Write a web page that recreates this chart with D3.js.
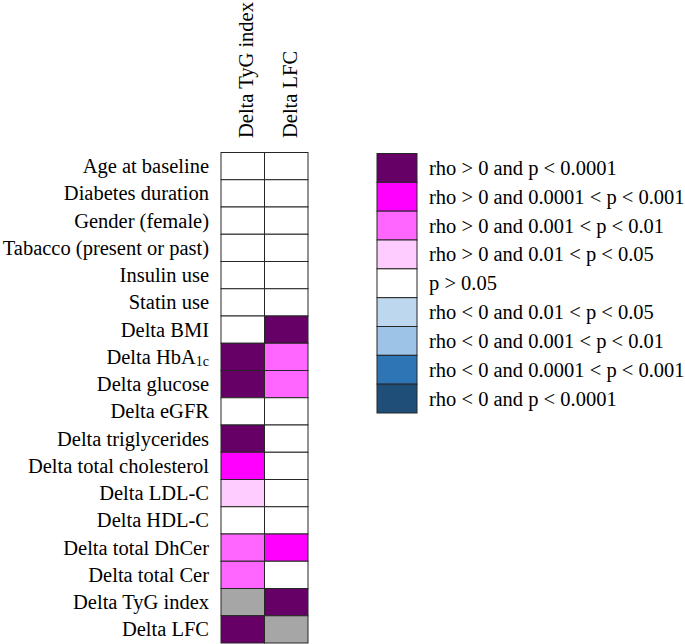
<!DOCTYPE html>
<html>
<head>
<meta charset="utf-8">
<script src="https://cdn.jsdelivr.net/npm/d3@7"></script>
<style>
  body { margin: 0; background: #fff; }
  text { font-family: "Liberation Serif", "Times New Roman", serif; font-size: 20.5px; fill: #000; }
</style>
</head>
<body>
<div id="chart"></div>
<script>
const rows = ['Age at baseline', 'Diabetes duration', 'Gender (female)', 'Tabacco (present or past)',
  'Insulin use', 'Statin use', 'Delta BMI', 'Delta HbA1c', 'Delta glucose', 'Delta eGFR',
  'Delta triglycerides', 'Delta total cholesterol', 'Delta LDL-C', 'Delta HDL-C',
  'Delta total DhCer', 'Delta total Cer', 'Delta TyG index', 'Delta LFC'];
const columns = ['Delta TyG index', 'Delta LFC'];

// significance class per row, per column (self = same variable)
const tygValues = ['ns', 'ns', 'ns', 'ns', 'ns', 'ns', 'ns', 'pos4', 'pos4', 'ns',
  'pos4', 'pos3', 'pos1', 'ns', 'pos2', 'pos2', 'self', 'pos4'];
const lfcValues = ['ns', 'ns', 'ns', 'ns', 'ns', 'ns', 'pos4', 'pos2', 'pos2', 'ns',
  'ns', 'ns', 'ns', 'ns', 'pos3', 'ns', 'pos4', 'self'];

const legendKeys = ['pos4', 'pos3', 'pos2', 'pos1', 'ns', 'neg1', 'neg2', 'neg3', 'neg4'];
const legendLabels = ['rho > 0 and p < 0.0001', 'rho > 0 and 0.0001 < p < 0.001',
  'rho > 0 and 0.001 < p < 0.01', 'rho > 0 and 0.01 < p < 0.05', 'p > 0.05',
  'rho < 0 and 0.01 < p < 0.05', 'rho < 0 and 0.001 < p < 0.01',
  'rho < 0 and 0.0001 < p < 0.001', 'rho < 0 and p < 0.0001'];

const width = 685, height = 644;

const color = d3.scaleOrdinal()
  .domain(legendKeys.concat(['self']))
  .range(['#660066', '#ff00ff', '#ff66ff', '#ffccff', '#ffffff',
          '#bdd7ee', '#9dc3e6', '#2e75b6', '#1f4e79', '#a6a6a6']);

const svg = d3.select('#chart').append('svg')
  .attr('width', width)
  .attr('height', height);

const x = d3.scaleBand().domain(columns).range([221, 308]);
const y = d3.scaleBand().domain(rows).range([152.5, 643]);

const cells = [];
rows.forEach((r, i) => {
  cells.push({ row: r, col: columns[0], v: tygValues[i] });
  cells.push({ row: r, col: columns[1], v: lfcValues[i] });
});

svg.append('g').selectAll('rect')
  .data(cells)
  .enter().append('rect')
  .attr('x', d => x(d.col))
  .attr('y', d => y(d.row))
  .attr('width', x.bandwidth())
  .attr('height', y.bandwidth())
  .attr('fill', d => color(d.v))
  .attr('stroke', '#262626')
  .attr('stroke-width', 1);

// row labels
const rowLabels = svg.append('g').selectAll('text')
  .data(rows)
  .enter().append('text')
  .attr('x', 209)
  .attr('y', d => y(d) + y.bandwidth() / 2 + 7)
  .attr('text-anchor', 'end');

rowLabels.each(function(d) {
  const t = d3.select(this);
  if (d === 'Delta HbA1c') {
    t.append('tspan').text('Delta HbA');
    t.append('tspan').text('1c').style('font-size', '14px').attr('dy', 2);
  } else {
    t.text(d);
  }
});

// column labels
svg.append('g').selectAll('text')
  .data(columns)
  .enter().append('text')
  .attr('transform', d => `translate(${x(d) + x.bandwidth() / 2 + 10.5},138) rotate(-90)`)
  .attr('text-anchor', 'start')
  .text(d => d);

// legend
const ly = d3.scaleBand().domain(legendKeys).range([153.5, 413]);
const legend = svg.append('g');

legend.selectAll('rect')
  .data(legendKeys)
  .enter().append('rect')
  .attr('x', 377)
  .attr('y', d => ly(d))
  .attr('width', 40)
  .attr('height', ly.bandwidth())
  .attr('fill', d => color(d))
  .attr('stroke', '#262626')
  .attr('stroke-width', 1);

legend.selectAll('text')
  .data(legendKeys)
  .enter().append('text')
  .attr('x', 429)
  .attr('y', d => ly(d) + ly.bandwidth() / 2 + 7)
  .text((d, i) => legendLabels[i]);
</script>
</body>
</html>
